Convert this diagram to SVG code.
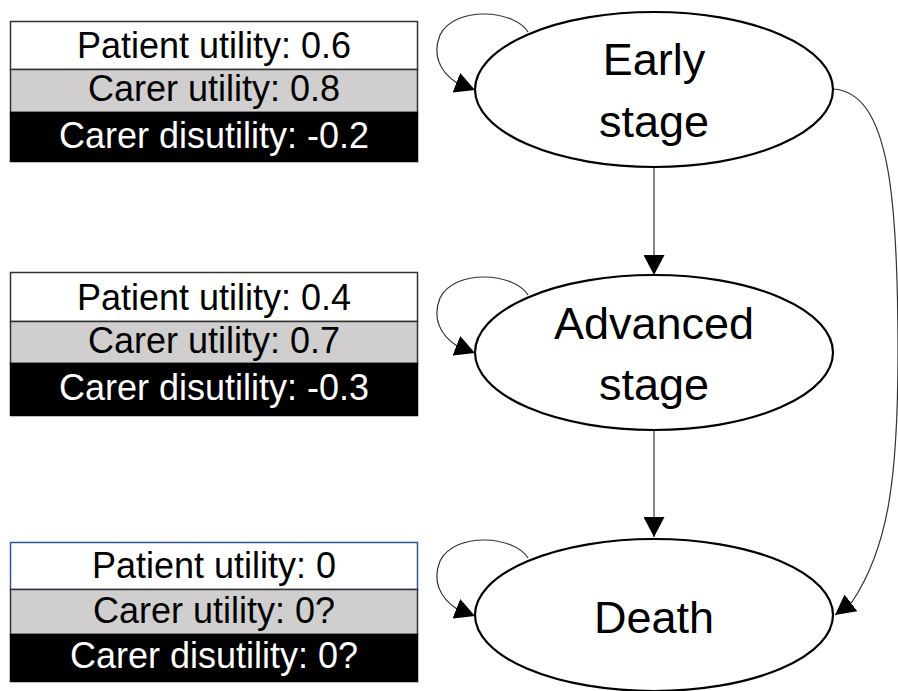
<svg xmlns="http://www.w3.org/2000/svg" width="898" height="691" viewBox="0 0 898 691">
<defs>
<style>
.bt{font-family:"Liberation Sans",Arial,sans-serif;font-size:36px;text-anchor:middle;}
.nt{font-family:"Liberation Sans",Arial,sans-serif;font-size:45px;text-anchor:middle;fill:#000;}
.wr{fill:#fff;stroke:#333;stroke-width:1.5;}
.gr{fill:#d0cece;stroke:#333;stroke-width:1.5;}
.br{fill:#000;stroke:#000;stroke-width:1.5;}
.el{fill:#fff;stroke:#000;stroke-width:2.2;}
.cn{fill:none;stroke:#333;stroke-width:1.2;marker-end:url(#ah);}
</style>
<marker id="ah" markerUnits="userSpaceOnUse" markerWidth="20" markerHeight="21" refX="20" refY="10.5" orient="auto" viewBox="0 0 20 21">
<path d="M0,0 L20,10.5 L0,21 z" fill="#000"/>
</marker>
</defs>
<rect width="898" height="691" fill="#fff"/>

<g id="box-early">
<rect class="wr" x="10.5" y="21.5" width="407" height="48"/>
<rect class="gr" x="10.5" y="69.5" width="407" height="43"/>
<rect class="br" x="10.5" y="112.5" width="407" height="49"/>
<text class="bt" x="214" y="58" fill="#000">Patient utility: 0.6</text>
<text class="bt" x="214" y="101" fill="#000">Carer utility: 0.8</text>
<text class="bt" x="214" y="148" fill="#fff">Carer disutility: -0.2</text>
</g>

<g id="box-advanced">
<rect class="wr" x="10.5" y="272.5" width="407" height="49"/>
<rect class="gr" x="10.5" y="321.5" width="407" height="42"/>
<rect class="br" x="10.5" y="363.5" width="407" height="52"/>
<text class="bt" x="214" y="310" fill="#000">Patient utility: 0.4</text>
<text class="bt" x="214" y="353" fill="#000">Carer utility: 0.7</text>
<text class="bt" x="214" y="400" fill="#fff">Carer disutility: -0.3</text>
</g>

<g id="box-death">
<rect x="10.5" y="542.5" width="407" height="47" fill="#fff" stroke="#2f5597" stroke-width="1.5"/>
<rect class="gr" x="10.5" y="589.5" width="407" height="45"/>
<rect class="br" x="10.5" y="634.5" width="407" height="47"/>
<text class="bt" x="214" y="578" fill="#000">Patient utility: 0</text>
<text class="bt" x="214" y="623" fill="#000">Carer utility: 0?</text>
<text class="bt" x="214" y="668" fill="#fff">Carer disutility: 0?</text>
</g>

<g id="connectors">
<path class="cn" d="M528 32 C515 10,455 5,440 35 C432 55,440 72,457 83 L475 90"/>
<path class="cn" d="M528 295 C515 273,455 268,440 298 C432 318,440 335,457 346 L475 353"/>
<path class="cn" d="M528 558 C515 536,455 531,440 561 C432 581,440 598,457 609 L475 616"/>
<path class="cn" d="M654 167 L654 275"/>
<path class="cn" d="M654 430 L654 537"/>
<path class="cn" d="M833 89 C890 92,898 200,898 352 C898 480,888 548,852 602 L835 615"/>
</g>

<g id="node-early">
<ellipse class="el" cx="654" cy="89.5" rx="179" ry="77.5"/>
<text class="nt" x="654" y="75">Early</text>
<text class="nt" x="654" y="137">stage</text>
</g>

<g id="node-advanced">
<ellipse class="el" cx="654" cy="352.5" rx="179" ry="77.5"/>
<text class="nt" x="654" y="339">Advanced</text>
<text class="nt" x="654" y="400">stage</text>
</g>

<g id="node-death">
<ellipse class="el" cx="654" cy="615" rx="179" ry="76"/>
<text class="nt" x="654" y="633">Death</text>
</g>
</svg>
